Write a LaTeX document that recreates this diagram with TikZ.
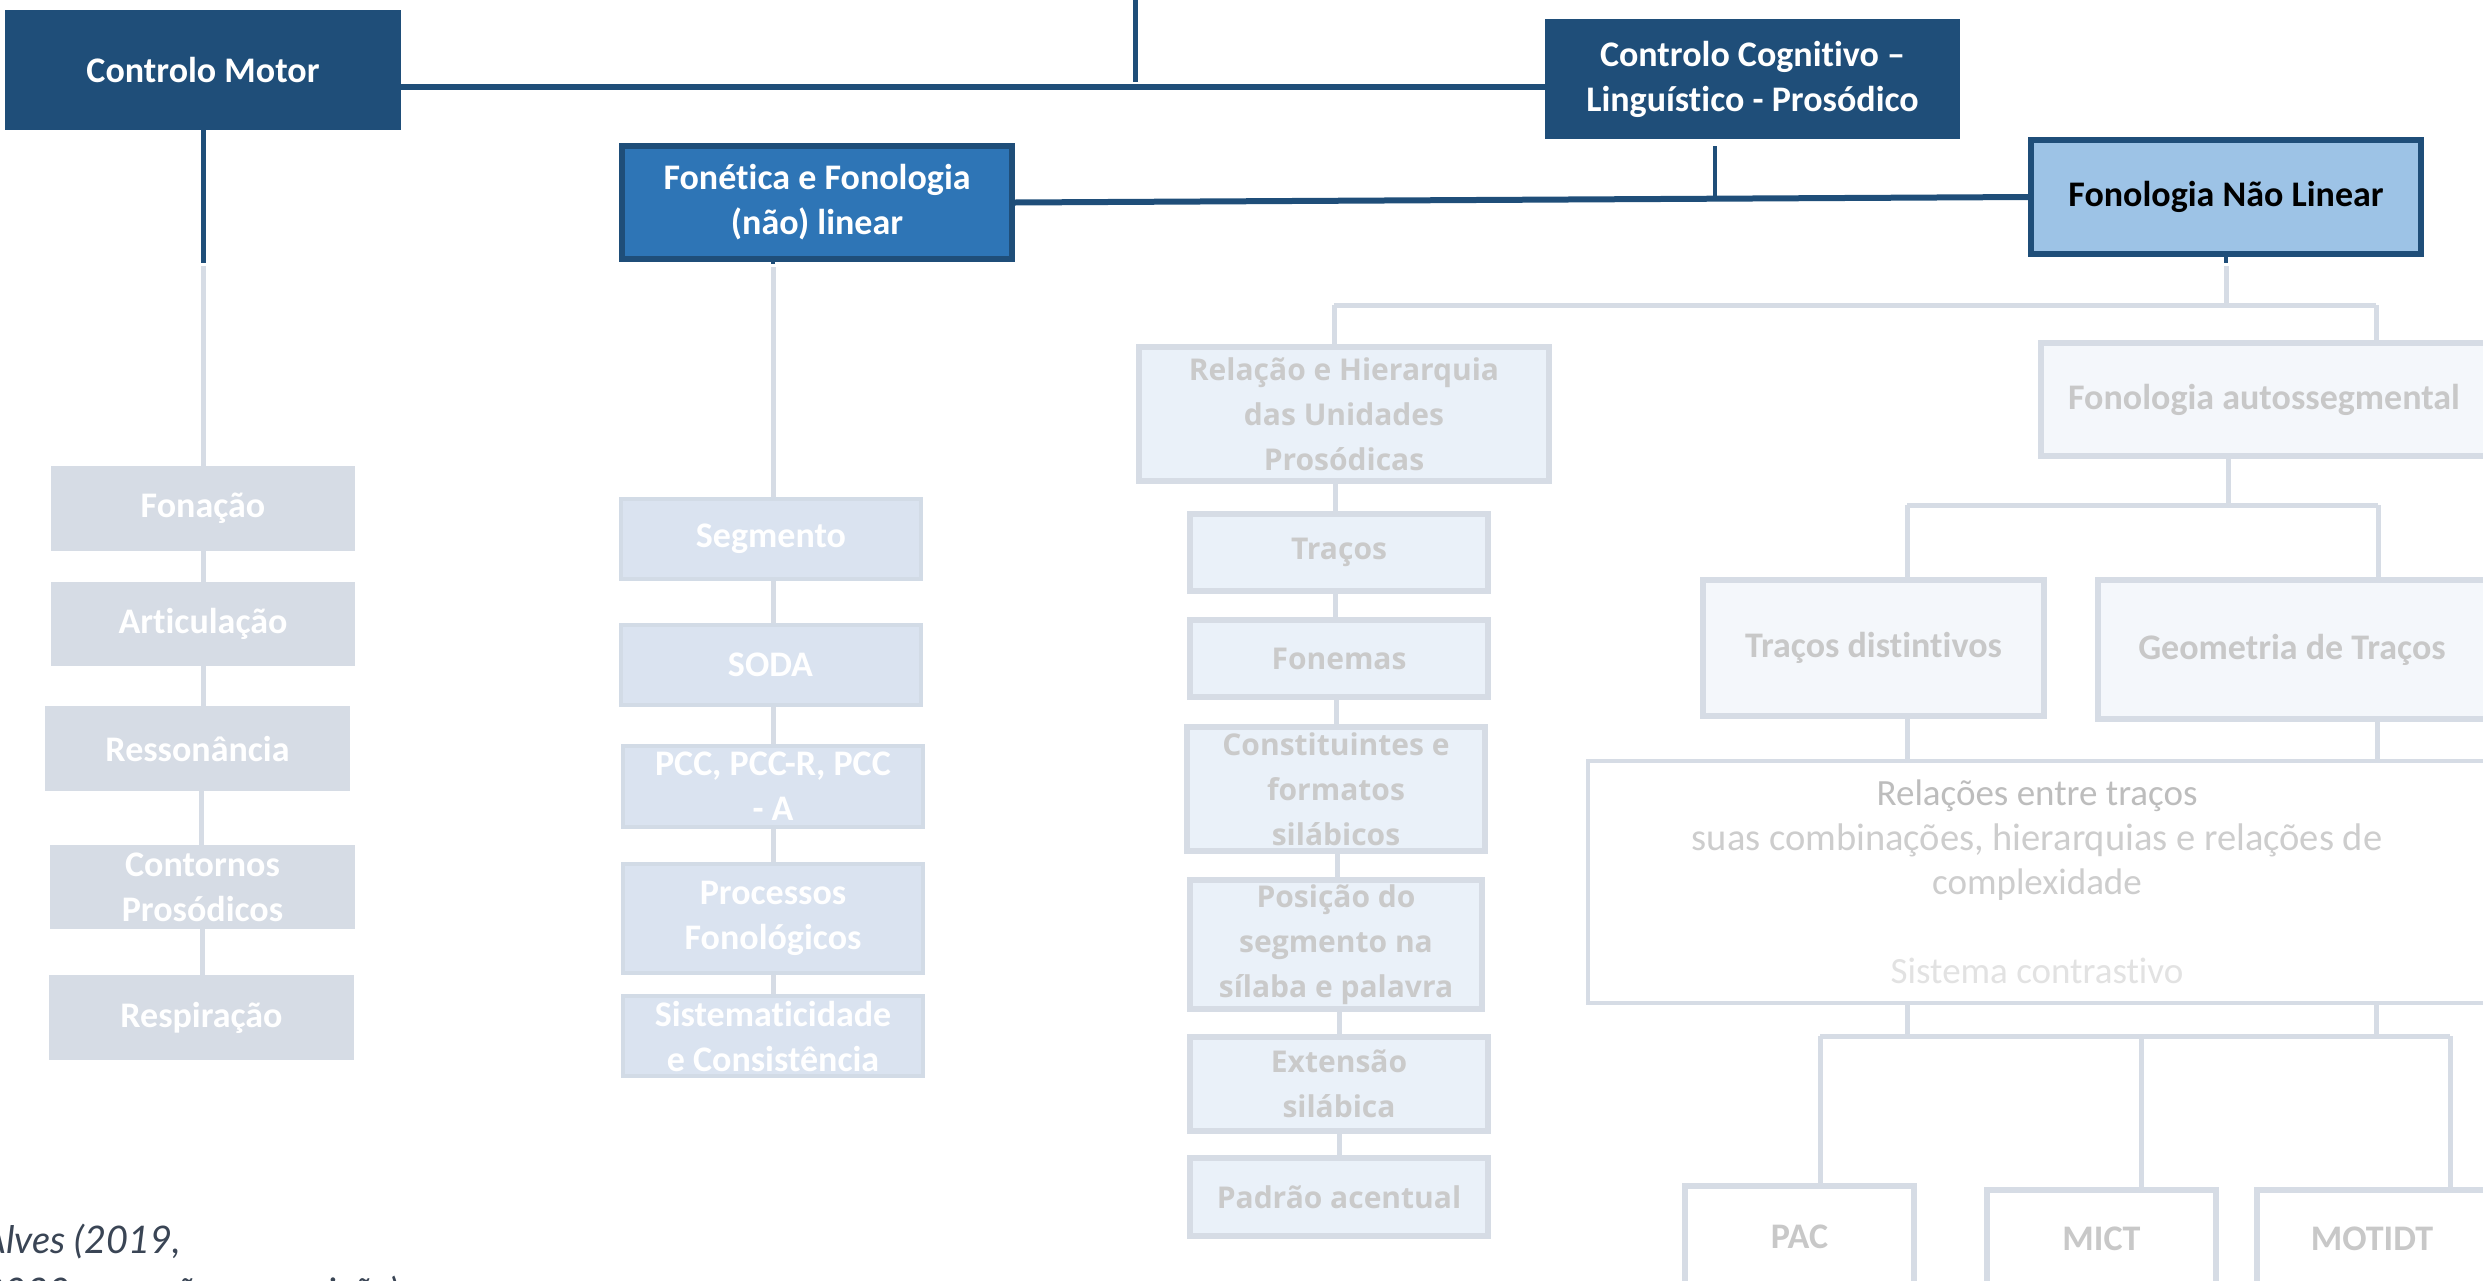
\documentclass[tikz,border=0pt]{standalone}
\usepackage{fontspec}
\setmainfont{Carlito}[RawFeature={-liga;-clig;-dlig;-rlig;-calt}]
\newfontfamily\osans{Open Sans}
\newfontfamily\latofont{Lato}
\definecolor{dkblue}{HTML}{1F4E79}
\definecolor{fonfill}{HTML}{2E75B6}
\definecolor{fnlfill}{HTML}{9DC3E6}
\definecolor{ltline}{HTML}{D6DCE5}
\definecolor{cifill}{HTML}{D6DCE5}
\definecolor{ciifill}{HTML}{DAE3F0}
\definecolor{ciiline}{HTML}{D2DBE6}
\definecolor{ciiifill}{HTML}{EAF1F9}
\definecolor{ciiitext}{HTML}{CACACA}
\definecolor{civfill}{HTML}{F4F7FB}
\definecolor{civtext}{HTML}{C8C8C8}
\definecolor{relA}{HTML}{BDBDBD}
\definecolor{relB}{HTML}{CDCDCD}
\definecolor{relC}{HTML}{E2E2E2}
\definecolor{foottext}{HTML}{3A4555}
\newcommand\calb{\fontsize{36}{45}\selectfont\bfseries}
\newcommand\calr{\fontsize{37}{44.5}\selectfont}
\newcommand\osb{\osans\fontsize{30}{45}\selectfont\bfseries}
\pgfdeclarelayer{bg}
\pgfsetlayers{bg,main}
\tikzset{
  sz/.style 2 args={minimum width=#1, minimum height=#2},
  dk/.style={draw=dkblue, line width=6},
  dkthin/.style={draw=dkblue, line width=4},
  lt/.style={draw=ltline, line width=5},
  topbox/.style={fill=dkblue, text=white, font=\calb, align=center, inner sep=0},
  fonbox/.style={fill=fonfill, draw=dkblue, line width=6, text=white, font=\calb, align=center, inner sep=0},
  fnlbox/.style={fill=fnlfill, draw=dkblue, line width=6, text=black, font=\calb, align=center, inner sep=0},
  cibox/.style={fill=cifill, text=white, font=\calb, align=center, inner sep=0},
  ciibox/.style={fill=ciifill, draw=ciiline, line width=4, text=white, font=\calb, align=center, inner sep=0},
  ciiibox/.style={fill=ciiifill, draw=ltline, line width=6, text=ciiitext, font=\osb, align=center, inner sep=0},
  civbox/.style={fill=civfill, draw=ltline, line width=6, text=civtext, font=\calb, align=center, inner sep=0},
  cvbox/.style={fill=white, draw=ltline, line width=6, text=civtext, font=\calb, align=center, inner sep=0},
  relbox/.style={fill=white, draw=ltline, line width=4, font=\calr, align=center, inner sep=0},
  foot/.style={anchor=base west, text=foottext, font=\latofont\itshape\fontsize{38}{52}\selectfont, inner sep=0},
}
\begin{document}
\begin{tikzpicture}[x=1pt,y=-1pt]
\useasboundingbox (0,0) rectangle (2483,1280);
\clip (0,0) rectangle (2483,1280);

% top level
\node[topbox, sz={396}{120}] (cm) at (203,70) {Controlo Motor};
\node[topbox, sz={415}{120}] (cc) at (1752.5,79) {Controlo Cognitivo –\\Linguístico - Prosódico};
\node[fonbox, sz={390}{113}] (fon) at (817,202.5) {Fonética e Fonologia\\(não) linear};
\node[fnlbox, sz={390}{114}] (fnl) at (2226,197) {Fonologia Não Linear};

% column 1
\node[cibox, sz={304}{85}] (fonacao) at (203,508.5) {Fonação};
\node[cibox, sz={304}{84}] (artic) at (203,624) {Articulação};
\node[cibox, sz={305}{85}] (resson) at (197.5,748.5) {Ressonância};
\node[cibox, sz={305}{84}] (contor) at (202.5,887) {Contornos\\Prosódicos};
\node[cibox, sz={305}{85}] (respir) at (201.5,1017.5) {Respiração};

% column 2
\node[ciibox, sz={300}{80}] (seg) at (771,539) {Segmento};
\node[ciibox, sz={300}{80}] (soda) at (770.5,665) {SODA};
\node[ciibox, sz={300}{81}] (pcc) at (773,786.5) {PCC, PCC-R, PCC\\- A};
\node[ciibox, sz={300}{109}] (proc) at (773,918.5) {Processos\\Fonológicos};
\node[ciibox, sz={300}{80}] (sist) at (773,1036) {Sistematicidade\\e Consistência};

% column 3
\node[ciiibox, sz={410}{134}] (rel) at (1344,414) {Relação e Hierarquia\\das Unidades\\Prosódicas};
\node[ciiibox, sz={298}{77}] (tracos) at (1339,552.5) {Traços};
\node[ciiibox, sz={298}{77}] (fonemas) at (1339,658.5) {Fonemas};
\node[ciiibox, sz={298}{124}] (const) at (1336,789) {Constituintes e\\formatos\\silábicos};
\node[ciiibox, sz={292}{129}] (posic) at (1336,944.5) {Posição do\\segmento na\\sílaba e palavra};
\node[ciiibox, sz={298}{94}] (exten) at (1339,1084) {Extensão\\silábica};
\node[ciiibox, sz={298}{78}] (padrao) at (1339,1197) {Padrão acentual};

% column 4
\node[civbox, sz={446}{113}] (auto) at (2264,399.5) {Fonologia autossegmental};
\node[civbox, sz={341}{136}] (tdist) at (1873.5,648) {Traços distintivos};
\node[civbox, sz={388}{139}] (geom) at (2292,649.5) {Geometria de Traços};
\node[relbox, sz={898}{242}] (relac) at (2037,882) {{\color{relA}Relações entre traços}\\{\color{relB}\fontsize{38.5}{44.5}\selectfont suas combinações, hierarquias e relações de}\\{\color{relB}complexidade}\\[44.5pt]{\color{relC}Sistema contrastivo}};
\node[cvbox, sz={229}{101}] (pac) at (1799.5,1236.5) {PAC};
\node[cvbox, sz={229}{97}] (mict) at (2101.5,1238.5) {MICT};
\node[cvbox, sz={230}{97}] (motidt) at (2372,1238.5) {MOTIDT};

% footnote
\node[foot] (footA) at (-18,1253) {Alves (2019,};
\node[foot] (footB) at (-18,1305) {2020 – versão em revisão)};

% junction coordinates
\coordinate (topIn) at (1135,0);
\coordinate (topEnd) at (1135,82);
\coordinate (hMain) at (1135,87);
\coordinate (ccA) at (1715,146);
\coordinate (ccB) at (1715,199);
\coordinate (cmA) at (203,263);
\coordinate (cmB) at (203,266);
\coordinate (fonA) at (773,264);
\coordinate (fonB) at (773,267);
\coordinate (fnlA) at (2226,263);
\coordinate (fnlB) at (2226,266);
\coordinate (brL) at (1334,305);
\coordinate (brR) at (2376,305);
\coordinate (brM) at (2226,305);
\coordinate (auA) at (2228,505);
\coordinate (auL) at (1907,505);
\coordinate (auR) at (2378,505);
\coordinate (trL) at (1907,740);
\coordinate (trR) at (2377,740);
\coordinate (boL) at (1907,1036);
\coordinate (boR) at (2376,1036);
\coordinate (bPac) at (1820,1036);
\coordinate (bMict) at (2141,1036);
\coordinate (bMot) at (2450,1036);

\begin{pgfonlayer}{bg}
  % dark connectors
  \draw[dk, line width=5] (topIn) -- (topEnd);
  \draw[dk] (cm.east |- hMain) -- (cc.west |- hMain);
  \draw[dkthin] (ccA) -- (ccB);
  \draw[dk] (fon.east) -- (fnl.west);
  \draw[dk, line width=5] (cm.south) -- (cmA);
  \draw[dk, line width=4] (fon.south -| fonA) -- (fonA);
  \draw[dk, line width=4] (fnl.south) -- (fnlA);
  % column 1
  \draw[lt] (cmB) -- (fonacao.north -| cmB);
  \draw[lt] (fonacao.south) -- (fonacao.south |- artic.north);
  \draw[lt] (artic.south) -- (artic.south |- resson.north);
  \draw[lt] (resson.south -| 201,0) -- (contor.north -| 201,0);
  \draw[lt] (contor.south) -- (contor.south |- respir.north);
  % column 2
  \draw[lt] (fonB) -- (seg.north -| fonB);
  \draw[lt] (seg.south -| fonB) -- (soda.north -| fonB);
  \draw[lt] (soda.south -| fonB) -- (pcc.north -| fonB);
  \draw[lt] (pcc.south -| fonB) -- (proc.north -| fonB);
  \draw[lt] (proc.south -| fonB) -- (sist.north -| fonB);
  % Fonologia nao linear branch
  \draw[lt] (fnlB) -- (brM);
  \draw[lt] (brL) -- (brR);
  \draw[lt] (brL) -- (rel.north -| brL);
  \draw[lt] (brR) -- (auto.north -| brR);
  % column 3
  \draw[lt] (rel.south -| 1335,0) -- (tracos.north -| 1335,0);
  \draw[lt] (tracos.south -| 1335,0) -- (fonemas.north -| 1335,0);
  \draw[lt] (fonemas.south -| 1336,0) -- (const.north -| 1336,0);
  \draw[lt] (const.south -| 1337,0) -- (posic.north -| 1337,0);
  \draw[lt] (posic.south -| 1339,0) -- (exten.north -| 1339,0);
  \draw[lt] (exten.south -| 1339,0) -- (padrao.north -| 1339,0);
  % column 4
  \draw[lt] (auto.south -| auA) -- (auA);
  \draw[lt] (auL) -- (auR);
  \draw[lt] (auL) -- (tdist.north -| auL);
  \draw[lt] (auR) -- (geom.north -| auR);
  \draw[lt] (tdist.south -| trL) -- (relac.north -| trL);
  \draw[lt] (geom.south -| trR) -- (relac.north -| trR);
  \draw[lt] (relac.south -| boL) -- (boL);
  \draw[lt] (relac.south -| boR) -- (boR);
  \draw[lt] (bPac) -- (bMot);
  \draw[lt] (bPac) -- (pac.north -| bPac);
  \draw[lt] (bMict) -- (mict.north -| bMict);
  \draw[lt] (bMot) -- (motidt.north -| bMot);
\end{pgfonlayer}
\end{tikzpicture}
\end{document}
